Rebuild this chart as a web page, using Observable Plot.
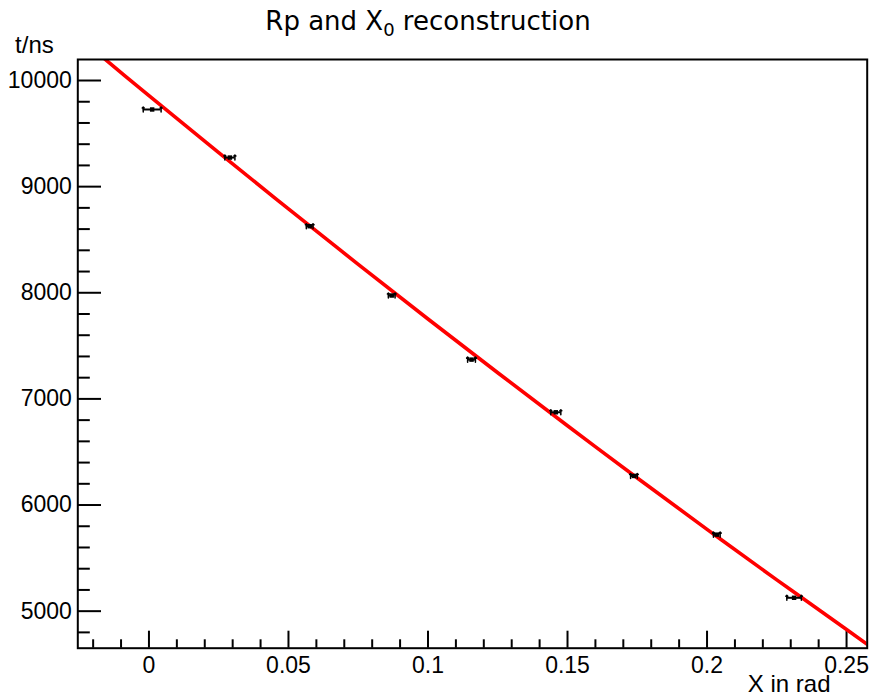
<!DOCTYPE html>
<html>
<head>
<meta charset="utf-8">
<script src="https://cdn.jsdelivr.net/npm/d3@7"></script>
<script src="https://cdn.jsdelivr.net/npm/@observablehq/plot@0.6"></script>
<style>
  html, body { margin: 0; padding: 0; background: white; }
  #chart { width: 870px; height: 697px; }
</style>
</head>
<body>
<div id="chart"></div>
<script>
// ---- data ----
const xVals = [0.00115, 0.029, 0.0576, 0.087, 0.1156, 0.1458, 0.1738, 0.2035, 0.2312];
const tVals = [9727, 9274, 8627, 7974, 7370, 6874, 6274, 5721, 5126];
const xErr  = [0.0032, 0.0018, 0.0012, 0.0012, 0.0014, 0.0018, 0.0012, 0.0012, 0.0026];

// fitted curve
const fitX = [-0.02, -0.01, 0, 0.025, 0.05, 0.075, 0.1, 0.125, 0.15, 0.175, 0.2, 0.225, 0.25, 0.2574];
const fitT = [10294, 10075, 9858, 9320, 8790, 8268, 7753, 7246, 6747, 6255, 5771, 5295, 4827, 4688];

// axes
const xMajor = [0, 0.05, 0.1, 0.15, 0.2, 0.25];
const xMinor = [-0.02, -0.01, 0.01, 0.02, 0.03, 0.04, 0.06, 0.07, 0.08, 0.09, 0.11, 0.12, 0.13, 0.14,
                0.16, 0.17, 0.18, 0.19, 0.21, 0.22, 0.23, 0.24];
const yMajor = [5000, 6000, 7000, 8000, 9000, 10000];
const yMinor = [4800, 5200, 5400, 5600, 5800, 6200, 6400, 6600, 6800, 7200, 7400, 7600, 7800,
                8200, 8400, 8600, 8800, 9200, 9400, 9600, 9800];
const xDomain = [-0.0255, 0.2574];
const yDomain = [4651, 10198];

const titleMain = "Rp and X";
const titleSub = "0";
const titleRest = " reconstruction";
const xTitle = "X in rad";
const yTitle = "t/ns";

const points = xVals.map((x, i) => ({x, t: tVals[i], lo: x - xErr[i], hi: x + xErr[i]}));
const fit = fitX.map((x, i) => ({x, t: fitT[i]}));

const font = "Liberation Sans, Arial, sans-serif";

const chart = Plot.plot({
  width: 870,
  height: 697,
  marginLeft: 77.3,
  marginTop: 59,
  marginRight: 3.3,
  marginBottom: 49.3,
  style: {fontFamily: font, fontSize: "23px", color: "black", background: "white", overflow: "visible"},
  x: {domain: xDomain},
  y: {domain: yDomain},
  marks: [
    // ticks (inward)
    Plot.axisY(yMajor, {anchor: "left", tickSize: -23.7, text: null, label: null, strokeWidth: 2}),
    Plot.axisY(yMinor, {anchor: "left", tickSize: -12.5, text: null, label: null, strokeWidth: 2}),
    Plot.axisX(xMajor, {anchor: "bottom", tickSize: -17, text: null, label: null, strokeWidth: 2}),
    Plot.axisX(xMinor, {anchor: "bottom", tickSize: -8.4, text: null, label: null, strokeWidth: 2}),
    // labels
    Plot.axisY(yMajor, {anchor: "left", tickSize: 0, tickPadding: 6, label: null, fontSize: 23, tickFormat: d => String(d)}),
    Plot.axisX(xMajor, {anchor: "bottom", tickSize: 0, tickPadding: 8, label: null, fontSize: 23, tickFormat: d => String(d)}),
    // axis titles
    Plot.text([yTitle], {frameAnchor: "top-left", textAnchor: "end", lineAnchor: "bottom", dx: -24, dy: -6.5, fontSize: 24, fill: "black"}),
    Plot.text([xTitle], {frameAnchor: "bottom-right", textAnchor: "end", lineAnchor: "bottom", dx: -36.7, dy: 44, fontSize: 24, fill: "black"}),
    // fit
    Plot.line(fit, {x: "x", y: "t", stroke: "#ff0000", strokeWidth: 3.6, curve: "natural", clip: true}),
    // error bars
    Plot.ruleY(points, {y: "t", x1: "lo", x2: "hi", stroke: "black", strokeWidth: 2}),
    Plot.vector(points, {x: "lo", y: "t", length: 5, rotate: 0, anchor: "middle", stroke: "black", strokeWidth: 1.5}),
    Plot.vector(points, {x: "hi", y: "t", length: 5, rotate: 0, anchor: "middle", stroke: "black", strokeWidth: 1.5}),
    Plot.dot(points, {x: "x", y: "t", symbol: "square", r: 2.5, fill: "black", stroke: null}),
    // frame
    Plot.frame({stroke: "black", strokeWidth: 2})
  ]
});

// title with a real subscript
const svg = d3.select(chart);
const title = svg.append("text")
  .attr("x", 428)
  .attr("y", 30)
  .attr("text-anchor", "middle")
  .attr("font-family", "DejaVu Sans, sans-serif")
  .attr("font-size", 26)
  .attr("fill", "black");
title.append("tspan").text(titleMain);
title.append("tspan").attr("font-size", 18).attr("dy", 6).text(titleSub);
title.append("tspan").attr("dy", -6).text(titleRest);

document.getElementById("chart").appendChild(chart);
</script>
</body>
</html>
